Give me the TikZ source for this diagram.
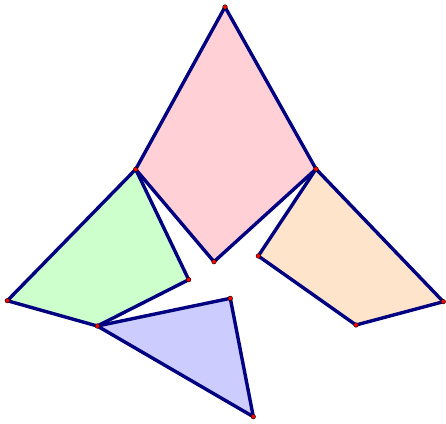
\documentclass[tikz,border=0pt]{standalone}
\definecolor{edge}{RGB}{0,0,128}
\definecolor{pinkf}{RGB}{255,208,214}
\definecolor{greenf}{RGB}{204,255,204}
\definecolor{orangef}{RGB}{255,228,204}
\definecolor{bluef}{RGB}{204,204,255}
\begin{document}
\begin{tikzpicture}[x=1pt,y=-1pt,
  poly/.style={draw=edge,line width=3.4pt,line join=round},
  pt/.style={circle,fill=red,draw=black,line width=0.4pt,inner sep=0pt,minimum size=4.6pt}]
\useasboundingbox (0,0) rectangle (446,423);
\coordinate (T) at (225,7);
\coordinate (L) at (135.7,169.3);
\coordinate (R) at (316,169);
\coordinate (B) at (214,261.7);
\coordinate (G2) at (188.7,279.7);
\coordinate (G3) at (97.3,326);
\coordinate (G4) at (7.3,300.7);
\coordinate (O2) at (443.3,301.7);
\coordinate (O3) at (356,325);
\coordinate (O4) at (258.3,256);
\coordinate (V2) at (230.3,298.3);
\coordinate (V3) at (253.3,416.7);
\filldraw[poly,fill=pinkf] (T) -- (R) -- (B) -- (L) -- cycle;
\filldraw[poly,fill=greenf] (L) -- (G2) -- (G3) -- (G4) -- cycle;
\filldraw[poly,fill=orangef] (R) -- (O2) -- (O3) -- (O4) -- cycle;
\filldraw[poly,fill=bluef] (G3) -- (V2) -- (V3) -- cycle;
\foreach \p in {T,L,R,B,G2,G3,G4,O2,O3,O4,V2,V3}
  \node[pt] (n\p) at (\p) {};
\end{tikzpicture}
\end{document}
